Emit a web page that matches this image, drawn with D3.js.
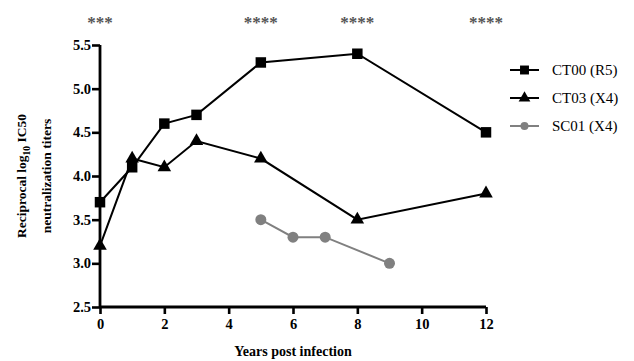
<!DOCTYPE html>
<html>
<head>
<script type="text/javascript" src="https://d3js.org/d3.v7.min.js"></script>
<title>Neutralization titers</title>
<style>
  body { margin: 0; background: #fff; }
</style>
</head>
<body>
<div id="chart"></div>
<script type="text/javascript">
var years   = [0, 1, 2, 3, 5, 8, 12];
var ct00    = [3.7, 4.1, 4.6, 4.7, 5.3, 5.4, 4.5];
var ct03    = [3.2, 4.2, 4.1, 4.4, 4.2, 3.5, 3.8];
var scYears = [5, 6, 7, 9];
var sc01    = [3.5, 3.3, 3.3, 3.0];
var xTicks  = [0, 2, 4, 6, 8, 10, 12];
var yTicks  = [2.5, 3.0, 3.5, 4.0, 4.5, 5.0, 5.5];
var starX   = [0, 5, 8, 12];
var starTxt = ["***", "****", "****", "****"];
var seriesNames = ["CT00 (R5)", "CT03 (X4)", "SC01 (X4)"];

(function(){
  var w = 634, h = 361;
  var serif = "'Liberation Serif', 'Times New Roman', serif";
  var svg = d3.select("#chart").append("svg")
      .attr("width", w).attr("height", h);

  var x = d3.scaleLinear().domain([0, 12]).range([100, 486]);
  var y = d3.scaleLinear().domain([2.5, 5.5]).range([307, 45]);

  // axes
  var xAxis = svg.append("g").attr("transform", "translate(0,307)")
      .call(d3.axisBottom(x).tickValues(xTicks).tickSize(7).tickFormat(d3.format("d")));
  var yAxis = svg.append("g").attr("transform", "translate(100,0)")
      .call(d3.axisLeft(y).tickValues(yTicks).tickSize(8).tickFormat(d3.format(".1f")));

  [xAxis, yAxis].forEach(function(a){
    a.select(".domain").attr("stroke", "#000").attr("stroke-width", 2.8);
    a.selectAll(".tick line").attr("stroke", "#000").attr("stroke-width", 2.6);
    a.selectAll(".tick text")
      .style("font-family", serif)
      .style("font-weight", "bold").style("font-size", "14.5px").attr("fill", "#000");
  });
  xAxis.select(".domain").attr("d", "M100,0H486");
  yAxis.select(".domain").attr("d", "M0,45V307");
  xAxis.selectAll(".tick text").attr("y", 10).attr("dy", "0.8em");
  yAxis.selectAll(".tick text").attr("x", -9);

  // axis titles
  svg.append("text").attr("x", 293).attr("y", 356)
     .attr("text-anchor", "middle")
     .style("font-family", serif).style("font-weight", "bold").style("font-size", "14px")
     .text("Years post infection");

  var yl = svg.append("text").attr("transform", "translate(26,176) rotate(-90)")
     .attr("text-anchor", "middle")
     .style("font-family", serif).style("font-weight", "bold").style("font-size", "13.5px");
  yl.append("tspan").text("Reciprocal log");
  yl.append("tspan").attr("dy", 4).style("font-size", "9.5px").text("10");
  yl.append("tspan").attr("dy", -4).text(" IC50");
  svg.append("text").attr("transform", "translate(51,176) rotate(-90)")
     .attr("text-anchor", "middle")
     .style("font-family", serif).style("font-weight", "bold").style("font-size", "13.5px")
     .text("neutralization titers");

  // significance stars
  svg.selectAll(".star").data(starX).enter().append("text")
     .attr("class", "star")
     .attr("x", function(d){ return x(d); }).attr("y", 28)
     .attr("text-anchor", "middle").attr("fill", "#555")
     .style("font-family", serif).style("font-weight", "bold").style("font-size", "17px")
     .text(function(d, i){ return starTxt[i]; });

  var line = d3.line().x(function(d){ return x(d[0]); }).y(function(d){ return y(d[1]); });

  var d00 = years.map(function(t, i){ return [t, ct00[i]]; });
  var d03 = years.map(function(t, i){ return [t, ct03[i]]; });
  var dsc = scYears.map(function(t, i){ return [t, sc01[i]]; });

  svg.append("path").datum(d00).attr("d", line).attr("fill", "none").attr("stroke", "#000").attr("stroke-width", 2);
  svg.append("path").datum(d03).attr("d", line).attr("fill", "none").attr("stroke", "#000").attr("stroke-width", 2);
  svg.append("path").datum(dsc).attr("d", line).attr("fill", "none").attr("stroke", "#808080").attr("stroke-width", 2);

  var sq = d3.symbol().type(d3.symbolSquare).size(110);
  var tri = d3.symbol().type(d3.symbolTriangle).size(80);
  var circ = d3.symbol().type(d3.symbolCircle).size(95);

  svg.selectAll(".m03").data(d03).enter().append("path")
     .attr("transform", function(d){ return "translate(" + x(d[0]) + "," + y(d[1]) + ")"; })
     .attr("d", tri).attr("fill", "#000");
  svg.selectAll(".m00").data(d00).enter().append("path")
     .attr("transform", function(d){ return "translate(" + x(d[0]) + "," + y(d[1]) + ")"; })
     .attr("d", sq).attr("fill", "#000");
  svg.selectAll(".msc").data(dsc).enter().append("path")
     .attr("transform", function(d){ return "translate(" + x(d[0]) + "," + y(d[1]) + ")"; })
     .attr("d", circ).attr("fill", "#808080");

  // legend
  var shapes = [sq, tri, circ];
  var legShapes = [d3.symbol().type(d3.symbolSquare).size(80),
                   d3.symbol().type(d3.symbolTriangle).size(60),
                   d3.symbol().type(d3.symbolCircle).size(50)];
  var cols = ["#000", "#000", "#808080"];
  var leg = svg.selectAll(".leg").data(seriesNames).enter().append("g")
     .attr("transform", function(d, i){ return "translate(510," + (70 + i * 28) + ")"; });
  leg.append("line").attr("x1", 0).attr("x2", 29).attr("stroke", function(d, i){ return cols[i]; }).attr("stroke-width", 2);
  leg.append("path").attr("transform", "translate(14.5,0)")
     .attr("d", function(d, i){ return legShapes[i](); }).attr("fill", function(d, i){ return cols[i]; });
  leg.append("text").attr("x", 42).attr("y", 5)
     .style("font-family", serif).style("font-size", "15px").attr("fill", "#000")
     .text(function(d){ return d; });
})();
</script>
</body>
</html>
